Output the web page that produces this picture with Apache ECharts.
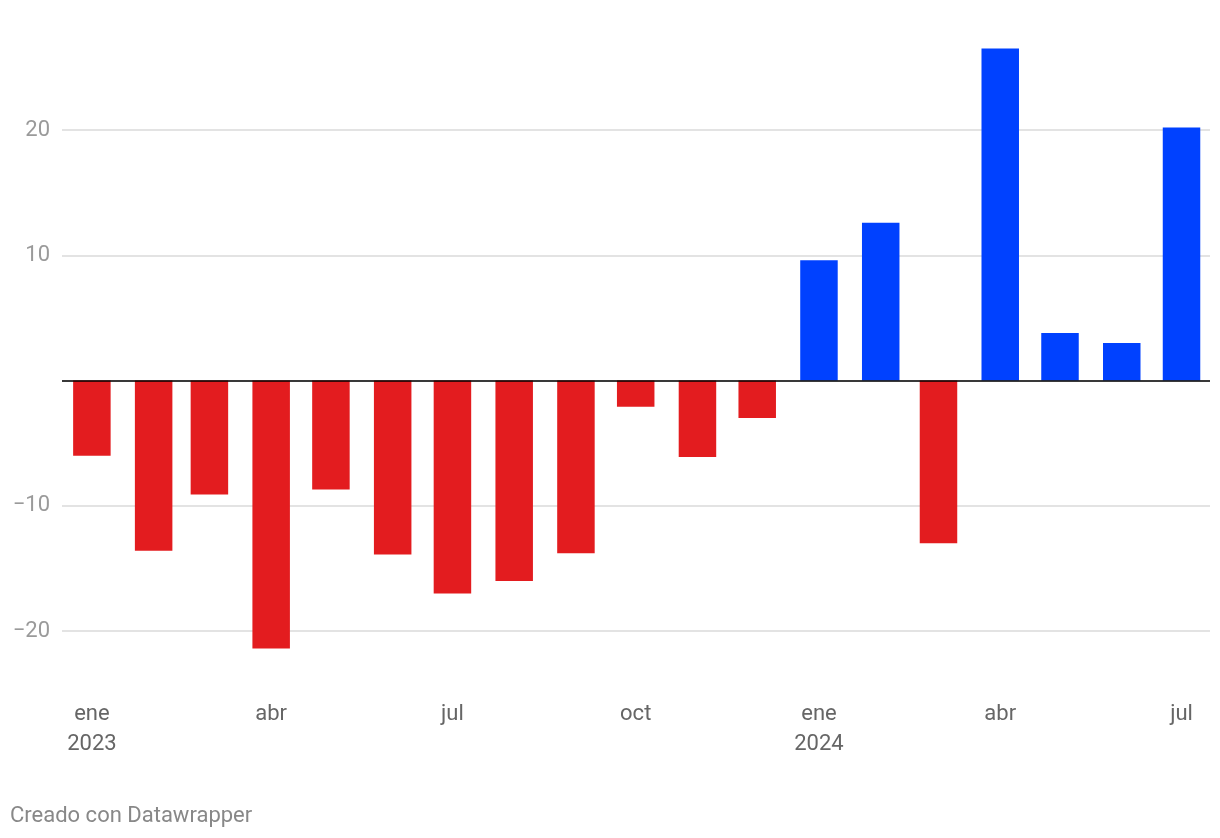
<!DOCTYPE html>
<html><head><meta charset="utf-8">
<script src="https://cdn.jsdelivr.net/npm/echarts@6/dist/echarts.min.js"></script>
<style>html,body{margin:0;padding:0;background:#fff}#c{width:1220px;height:838px}</style>
</head><body><div id="c"></div>
<script>
// Months (year, monthIndex) Jan 2023 – Jul 2024
const months = [
  [2023,0],[2023,1],[2023,2],[2023,3],[2023,4],[2023,5],[2023,6],[2023,7],[2023,8],[2023,9],[2023,10],[2023,11],
  [2024,0],[2024,1],[2024,2],[2024,3],[2024,4],[2024,5],[2024,6]
];
const values = [-6.0,-13.6,-9.1,-21.4,-8.7,-13.9,-17.0,-16.0,-13.8,-2.1,-6.1,-3.0,
                9.6,12.6,-13.0,26.5,3.8,3.0,20.2];
const monthNames = ['ene','feb','mar','abr','may','jun','jul','ago','sep','oct','nov','dic'];
const tickMonths = [[2023,0],[2023,3],[2023,6],[2023,9],[2024,0],[2024,3],[2024,6]];
const yTicks = [-20,-10,0,10,20];

const DAY = 86400000;
const toDay = (y,m)=>Date.UTC(y,m,1)/DAY;   // day number
const data = months.map((m,i)=>[toDay(m[0],m[1]), values[i]]);
const tickValues = tickMonths.map(m=>toDay(m[0],m[1]));

const chart = echarts.init(document.getElementById('c'));
chart.setOption({
  animation:false,
  textStyle:{fontFamily:'Roboto'},
  grid:{left:62,right:10,top:130,bottom:207},
  xAxis:{
    type:'value',
    min: toDay(2023,0) - 15.0,
    max: toDay(2024,6) + 14.3,
    axisLine:{show:false,onZero:false},
    axisTick:{show:false},
    splitLine:{show:false},
    axisLabel:{
      customValues: tickValues,
      showMinLabel:true, showMaxLabel:true,
      margin:68,
      fontSize:22,
      lineHeight:30,
      color:'#666',
      fontFamily:'Roboto',
      formatter:function(v){
        const d=new Date(Math.round(v)*DAY);
        const m=d.getUTCMonth();
        return m===0 ? monthNames[m]+'\n'+d.getUTCFullYear() : monthNames[m];
      }
    }
  },
  yAxis:{
    type:'value',
    min:yTicks[0], max:yTicks[yTicks.length-1], interval:10,
    axisLine:{show:false}, axisTick:{show:false},
    splitLine:{lineStyle:{color:'#e3e3e3',width:2}},
    axisLabel:{
      margin:12, fontSize:22, color:'#9a9a9a', fontFamily:'Roboto',
      formatter:function(v){ return v===0?'':(v<0?'\u2212'+Math.abs(v):String(v)); }
    }
  },
  series:[{
    type:'bar',
    data:data,
    barWidth:37.5,
    clip:false,
    itemStyle:{color:function(p){return p.value[1]<0?'#e31c1f':'#0041ff';}},
    markLine:{
      silent:true, symbol:'none', label:{show:false},
      lineStyle:{color:'#000',width:1.5,type:'solid'},
      data:[{yAxis:0}]
    }
  }],
  graphic:[{
    type:'text', left:10, top:805,
    style:{text:'Creado con Datawrapper', fill:'#888', fontSize:22, fontFamily:'Roboto'}
  }]
});
</script>
</body></html>
